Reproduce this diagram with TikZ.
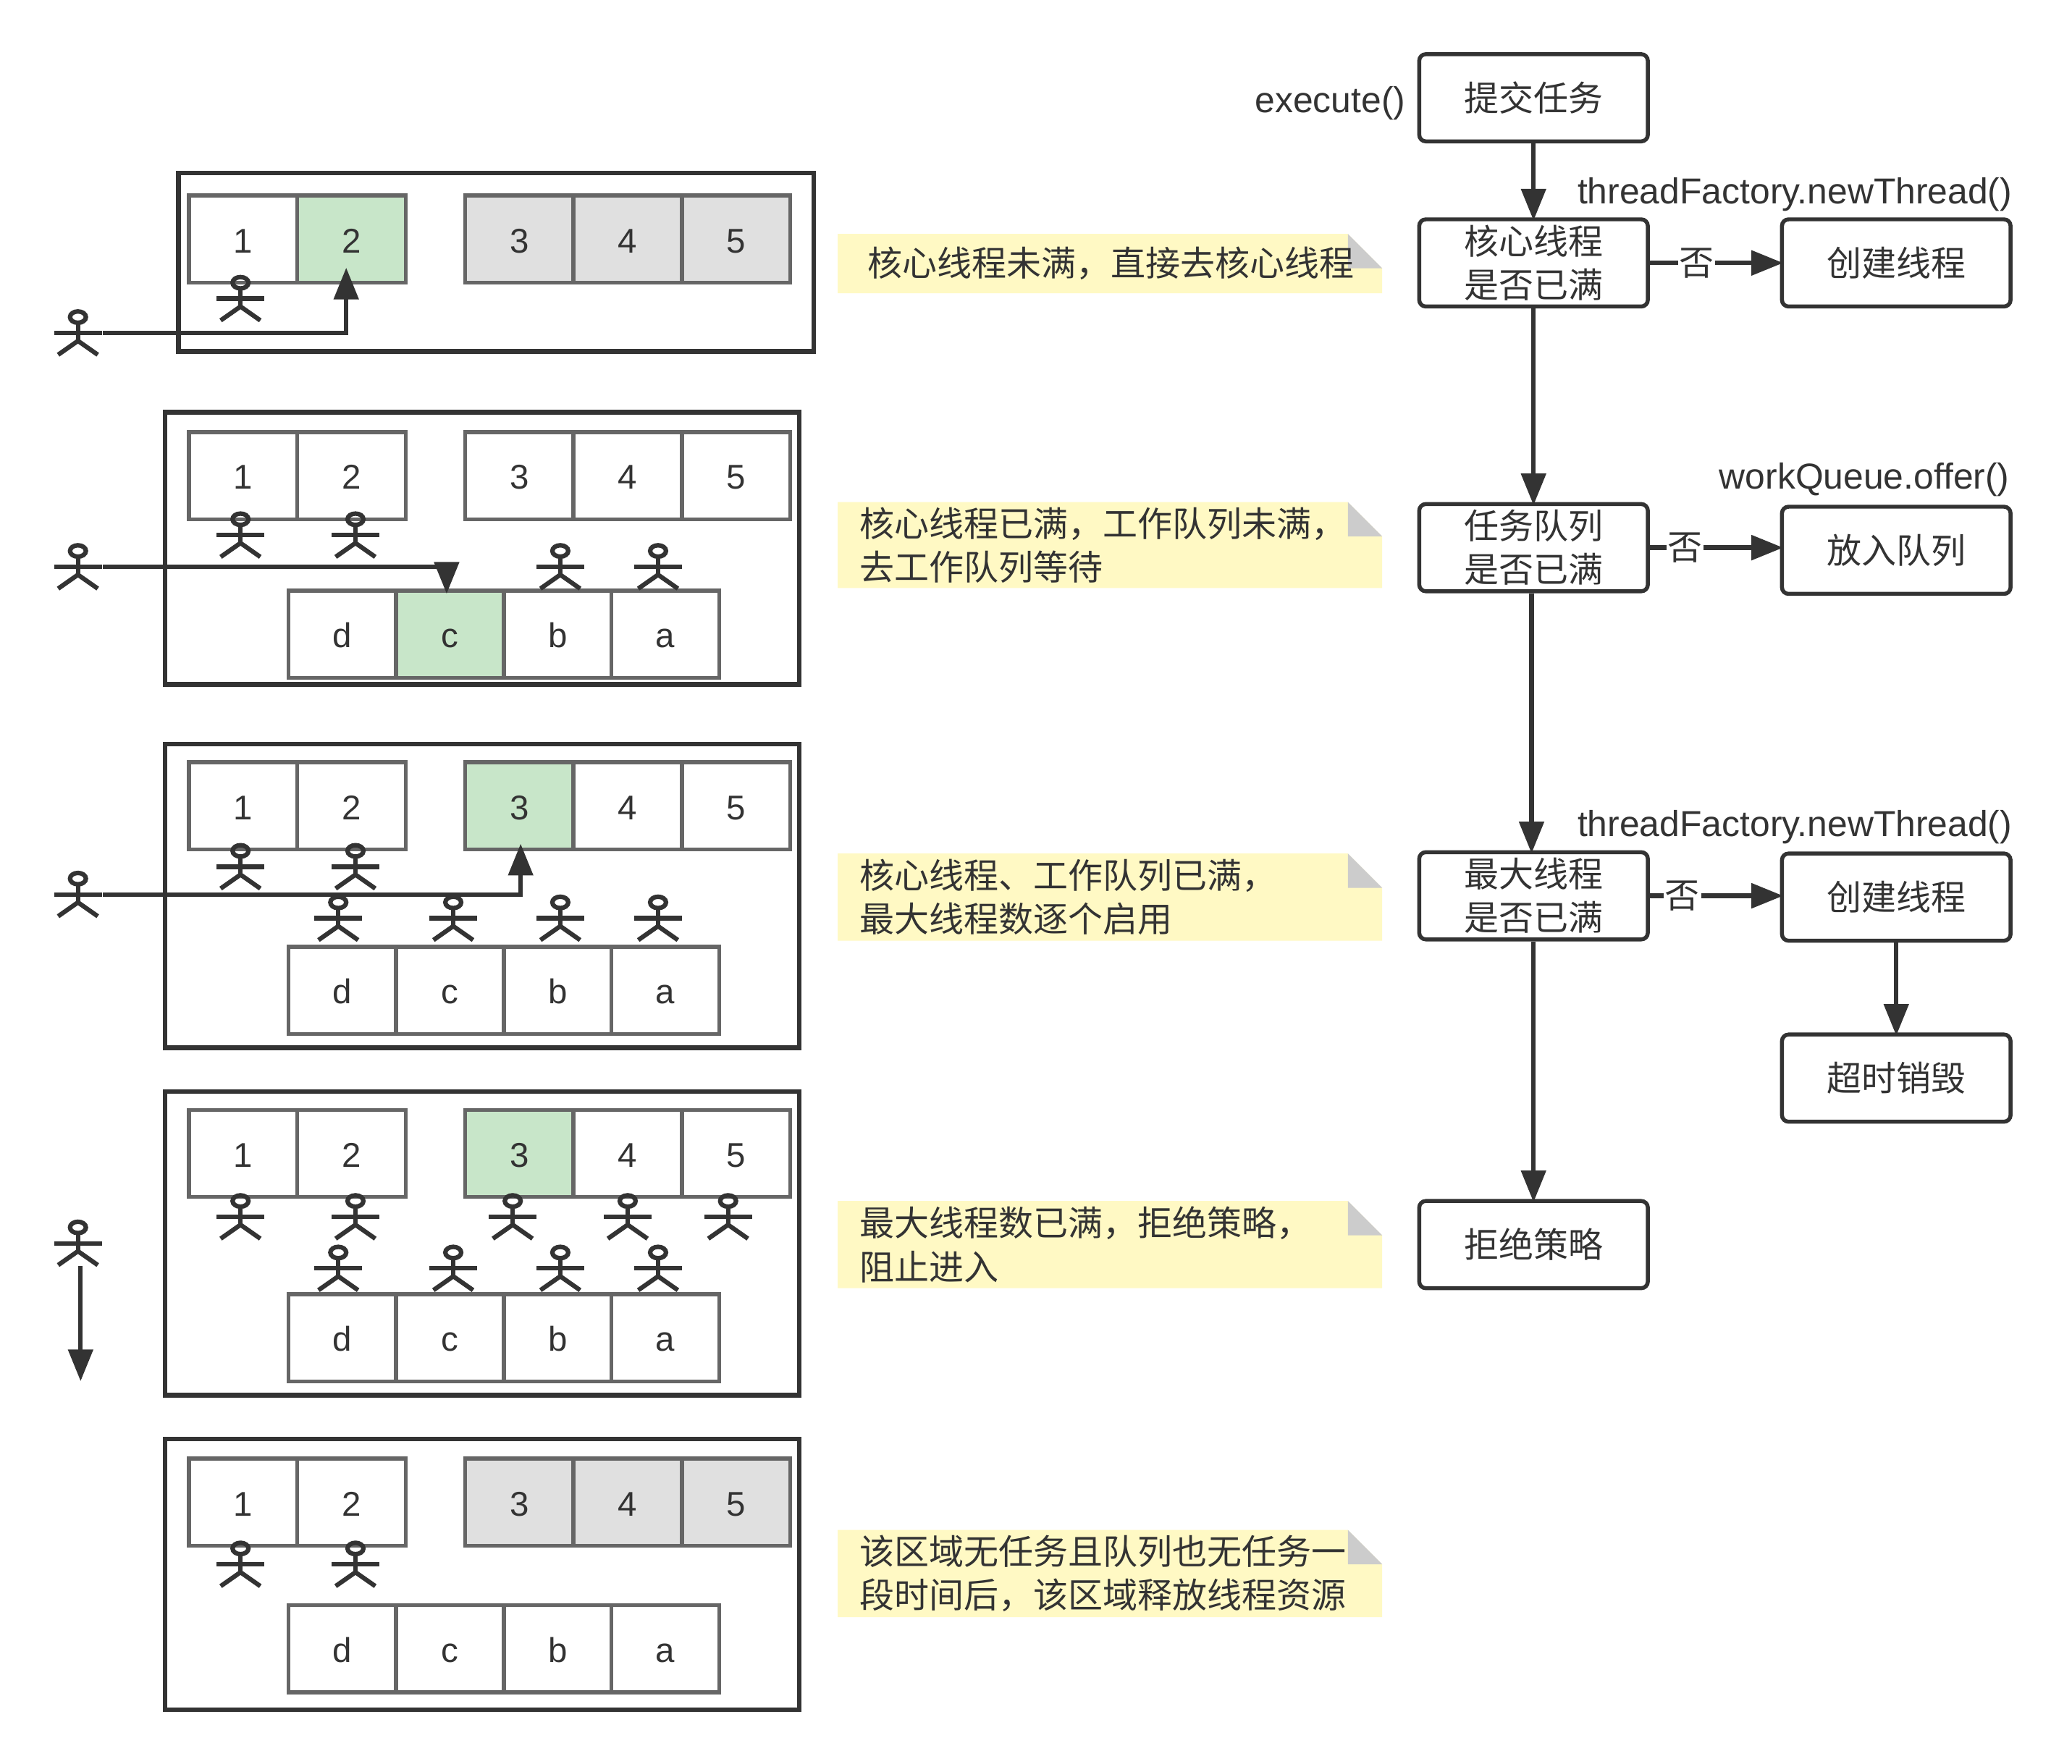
\documentclass[tikz,border=0pt]{standalone}
\usepackage{fontspec}
\setmainfont{Liberation Sans}
\newfontfamily\cjk{Noto Sans CJK SC}
\usetikzlibrary{arrows.meta}
\definecolor{ink}{HTML}{333333}
\definecolor{cellgray}{HTML}{666666}
\definecolor{greenfill}{HTML}{C8E6C9}
\definecolor{grayfill}{HTML}{E0E0E0}
\definecolor{notefill}{HTML}{FFF9C4}
\definecolor{foldfill}{HTML}{CCCCCC}
\tikzset{
  every node/.style={text=ink,font=\fontsize{13}{16.5}\selectfont},
  outer/.style={draw=ink,line width=1.7pt},
  cell/.style={draw=cellgray,line width=1.5pt,fill=white,minimum width=41pt,minimum height=33pt,inner sep=0pt,text height=10.3pt,text depth=0pt},
  qcell/.style={cell,minimum width=40.7pt},
  on/.style={fill=greenfill},
  off/.style={fill=grayfill},
  plain/.style={},
  flowbox/.style={draw=ink,line width=1.5pt,fill=white,rounded corners=2.5pt,minimum width=86.5pt,minimum height=33pt,inner sep=0pt,align=center,font=\cjk\fontsize{13.15}{16.5}\selectfont},
  conn/.style={draw=ink,line width=1.7pt,shorten >=-1.2pt,-{Triangle[length=12pt,width=9.2pt]}},
  notetext/.style={anchor=west,align=left,inner sep=0pt,font=\cjk\fontsize{13.15}{16.5}\selectfont},
  nolabel/.style={fill=white,inner sep=0.5pt,font=\cjk\fontsize{13.15}{16.5}\selectfont},
  apiname/.style={inner sep=0pt,font=\fontsize{13.65}{16.5}\selectfont},
  actor/.pic={
    \draw[draw=ink,line width=1.7pt] (0,5) ellipse [x radius=6,y radius=4.3];
    \draw[draw=ink,line width=1.7pt] (0,9.5) -- (0,25);
    \draw[draw=ink,line width=1.7pt] (-18,17) -- (18,17);
    \draw[draw=ink,line width=1.7pt] (-15,33.5) -- (0,23) -- (15,33.5);
    \coordinate (-hand) at (19,17);
  }
}
% prefix, centre y, five cell styles
\newcommand{\threadrow}[7]{
  \node[cell,#3] (#1n1) at (184,#2) {1};
  \node[cell,#4] (#1n2) at (266,#2) {2};
  \node[cell,#5] (#1n3) at (393,#2) {3};
  \node[cell,#6] (#1n4) at (475,#2) {4};
  \node[cell,#7] (#1n5) at (557,#2) {5};
}
% prefix, centre y, style of cell c
\newcommand{\queuerow}[3]{
  \node[qcell] (#1qd) at (259,#2) {d};
  \node[qcell,#3] (#1qc) at (340.5,#2) {c};
  \node[qcell] (#1qb) at (422,#2) {b};
  \node[qcell] (#1qa) at (503.5,#2) {a};
}
% name, top, bottom, text x, text
\newcommand{\stickynote}[5]{
  \fill[notefill] (634,#2) -- (1020,#2) -- (1046,#2+26) -- (1046,#3) -- (634,#3) -- cycle;
  \fill[foldfill] (1020,#2) -- (1046,#2+26) -- (1020,#2+26) -- cycle;
  \node[notetext] (#1) at (#4,#2/2+#3/2) {#5};
}
\begin{document}
\begin{tikzpicture}[x=0.5pt,y=-0.5pt]
\useasboundingbox (0,0) rectangle (1568,1335);
\fill[white] (0,0) rectangle (1568,1335);

% group frames
\draw[outer] (135,131) rectangle (616,266);
\draw[outer] (125,312) rectangle (605,518);
\draw[outer] (125,563) rectangle (605,793);
\draw[outer] (125,826) rectangle (605,1056);
\draw[outer] (125,1089) rectangle (605,1294);

% cells
\threadrow{a}{181}{plain}{on}{off}{off}{off}
\threadrow{b}{360}{plain}{plain}{plain}{plain}{plain}
\queuerow{b}{480}{on}
\threadrow{c}{610}{plain}{plain}{on}{plain}{plain}
\queuerow{c}{749.5}{plain}
\threadrow{d}{873}{plain}{plain}{on}{plain}{plain}
\queuerow{d}{1012.5}{plain}
\threadrow{e}{1137}{plain}{plain}{off}{off}{off}
\queuerow{e}{1248}{plain}

% actors
\pic (ua) at (59,235) {actor};
\pic (a1) at (182,209) {actor};

\pic (ub) at (59,412) {actor};
\pic (b1) at (182,388) {actor};
\pic (b2) at (269,388) {actor};
\pic (b3) at (424,412) {actor};
\pic (b4) at (498,412) {actor};

\pic (uc) at (59,660) {actor};
\pic (c1) at (182,639) {actor};
\pic (c2) at (269,639) {actor};
\pic (c3) at (256,678) {actor};
\pic (c4) at (343,678) {actor};
\pic (c5) at (424,678) {actor};
\pic (c6) at (498,678) {actor};

\pic (ud) at (59,924) {actor};
\pic (d1) at (182,904) {actor};
\pic (d2) at (269,904) {actor};
\pic (d3) at (388,904) {actor};
\pic (d4) at (475,904) {actor};
\pic (d5) at (551,904) {actor};
\pic (d6) at (256,943) {actor};
\pic (d7) at (343,943) {actor};
\pic (d8) at (424,943) {actor};
\pic (d9) at (498,943) {actor};

\pic (e1) at (182,1167) {actor};
\pic (e2) at (269,1167) {actor};

% arrows of the left column
\coordinate (tipa) at (262,205);
\coordinate (tipb) at (338,447);
\coordinate (tipc) at (394,641);
\coordinate (taild) at (61,958);
\coordinate (tipd) at (61,1043);
\draw[conn] (ua-hand) -| (tipa);
\draw[conn] (ub-hand) -| (tipb);
\draw[conn] (uc-hand) -| (tipc);
\draw[conn] (taild) -- (tipd);

% notes
\stickynote{n1}{177}{222}{656}{核心线程未满，直接去核心线程}
\stickynote{n2}{380}{445}{650}{核心线程已满，工作队列未满，\\去工作队列等待}
\stickynote{n3}{646}{712}{650}{核心线程、工作队列已满，\\最大线程数逐个启用}
\stickynote{n4}{909}{975}{650}{最大线程数已满，拒绝策略，\\阻止进入}
\stickynote{n5}{1158}{1224}{650}{该区域无任务且队列也无任务一\\段时间后，该区域释放线程资源}

% flow chart
\node[flowbox] (submit) at (1160.5,74) {提交任务};
\node[flowbox] (core) at (1160.5,199) {核心线程\\是否已满};
\node[flowbox] (create1) at (1435,199) {创建线程};
\node[flowbox] (queue) at (1160.5,414.5) {任务队列\\是否已满};
\node[flowbox] (enqueue) at (1435,416.5) {放入队列};
\node[flowbox] (maxp) at (1160.5,678) {最大线程\\是否已满};
\node[flowbox] (create2) at (1435,679) {创建线程};
\node[flowbox] (timeout) at (1435,816) {超时销毁};
\node[flowbox] (reject) at (1160.5,942) {拒绝策略};

\draw[conn] (submit) -- (core);
\draw[conn] (core) -- (queue);
\draw[conn] ([xshift=-0.75pt]queue.south) -- ([xshift=-0.75pt]maxp.north);
\draw[conn] (maxp) -- (reject);
\draw[conn] (core) -- node[nolabel,pos=0.36] {否} (create1);
\draw[conn] (queue.east) -- node[nolabel,pos=0.27] {否} (enqueue.west |- queue.east);
\draw[conn] (maxp) -- node[nolabel,pos=0.25] {否} (create2.west |- maxp);
\draw[conn] (create2) -- (timeout);

\node[apiname,anchor=east] (l1) at (1064,78) {execute()};
\node[apiname,anchor=east] (l2) at (1523,147) {threadFactory.newThread()};
\node[apiname,anchor=east] (l3) at (1521,363) {workQueue.offer()};
\node[apiname,anchor=east] (l4) at (1523,626) {threadFactory.newThread()};
\end{tikzpicture}
\end{document}
